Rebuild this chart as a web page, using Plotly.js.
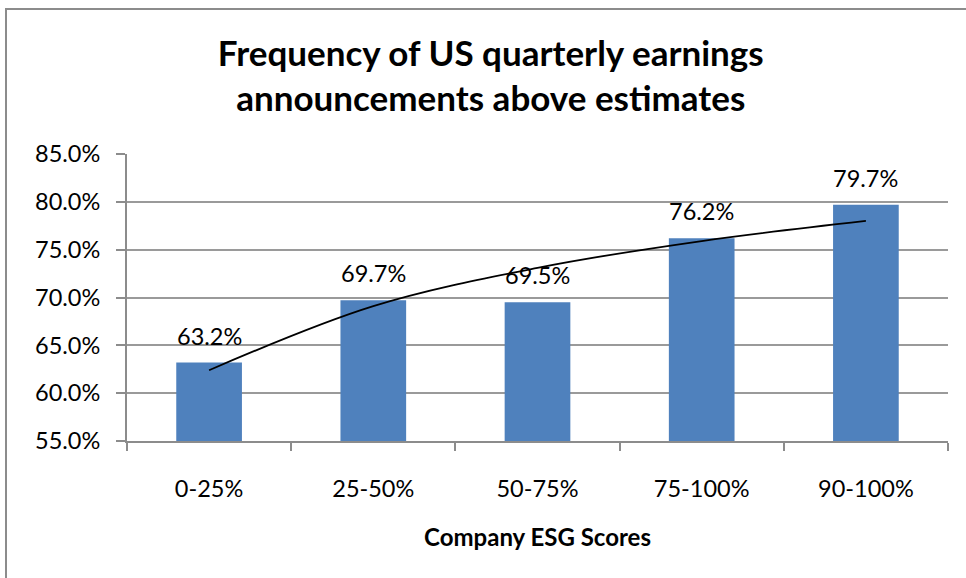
<!DOCTYPE html>
<html>
<head>
<meta charset="utf-8">
<script src="https://cdn.plot.ly/plotly-3.0.1.min.js"></script>
<style>
  html, body { margin: 0; padding: 0; background: #fff; }
  #wrap { position: relative; width: 966px; height: 578px; overflow: hidden; }
  #frame { position: absolute; left: 5px; top: 8px; width: 1000px; height: 1000px;
           border-left: 2px solid #8c8c8c; border-top: 2px solid #8c8c8c; pointer-events: none; }
  #chart { width: 966px; height: 578px; }
</style>
</head>
<body>
<div id="wrap">
  <div id="chart"></div>
  <div id="frame"></div>
</div>
<script>
const categories = ["0-25%", "25-50%", "50-75%", "75-100%", "90-100%"];
const frequency = [63.2, 69.7, 69.5, 76.2, 79.7];
const barLabels = ["63.2%", "69.7%", "69.5%", "76.2%", "79.7%"];
// logarithmic trendline at each category centre
const trendValues = [62.4, 69.1, 73.1, 75.9, 78.0];
const yTicks = [55, 60, 65, 70, 75, 80, 85];
const yTickLabels = ["55.0%", "60.0%", "65.0%", "70.0%", "75.0%", "80.0%", "85.0%"];

const FONT = "Lato, 'Open Sans', sans-serif";

const bars = {
  type: "bar",
  x: categories,
  y: frequency,
  marker: { color: "#4f81bd" },
  hoverinfo: "x+y",
  showlegend: false
};

const trend = {
  type: "scatter",
  mode: "lines",
  x: categories,
  y: trendValues,
  line: { color: "#000", width: 1.8, shape: "spline", smoothing: 1 },
  hoverinfo: "skip",
  showlegend: false
};

const labelAnnotations = categories.map((c, i) => ({
  x: c,
  y: frequency[i],
  xref: "x",
  yref: "y",
  text: barLabels[i],
  showarrow: false,
  xanchor: "center",
  yanchor: "bottom",
  yshift: 11,
  font: { family: FONT, size: 23.5, color: "#000" }
}));

const layout = {
  width: 966,
  height: 578,
  paper_bgcolor: "#fff",
  plot_bgcolor: "#fff",
  margin: { l: 127, r: 18, t: 154, b: 137 },
  bargap: 0.6,
  font: { family: FONT, color: "#000" },
  title: {
    text: "<b>Frequency of US quarterly earnings<br>announcements above estimates</b>",
    font: { family: FONT, size: 35, color: "#000" },
    x: 0.508,
    xanchor: "center",
    xref: "container",
    y: 0.886,
    yanchor: "middle",
    yref: "container"
  },
  annotations: labelAnnotations,
  xaxis: {
    type: "category",
    tickson: "boundaries",
    ticks: "outside",
    ticklen: 8,
    tickcolor: "#8c8c8c",
    tickwidth: 2,
    showline: true,
    linecolor: "#8c8c8c",
    linewidth: 2,
    tickfont: { family: FONT, size: 23.5, color: "#000" },
    ticklabelstandoff: 26,
    title: {
      text: "<b>Company ESG Scores</b>",
      font: { family: FONT, size: 24, color: "#000" },
      standoff: 28
    },
    showgrid: false,
    zeroline: false,
    fixedrange: true
  },
  yaxis: {
    range: [55, 85],
    tickvals: yTicks,
    ticktext: yTickLabels,
    ticks: "outside",
    ticklen: 9,
    tickcolor: "#8c8c8c",
    tickwidth: 2,
    showline: true,
    linecolor: "#8c8c8c",
    linewidth: 2,
    showgrid: true,
    gridcolor: "#9a9a9a",
    gridwidth: 2,
    zeroline: false,
    tickfont: { family: FONT, size: 23.5, color: "#000" },
    ticklabelstandoff: 11,
    fixedrange: true
  }
};

Plotly.newPlot("chart", [bars, trend], layout, { displayModeBar: false, staticPlot: true });
</script>
</body>
</html>
